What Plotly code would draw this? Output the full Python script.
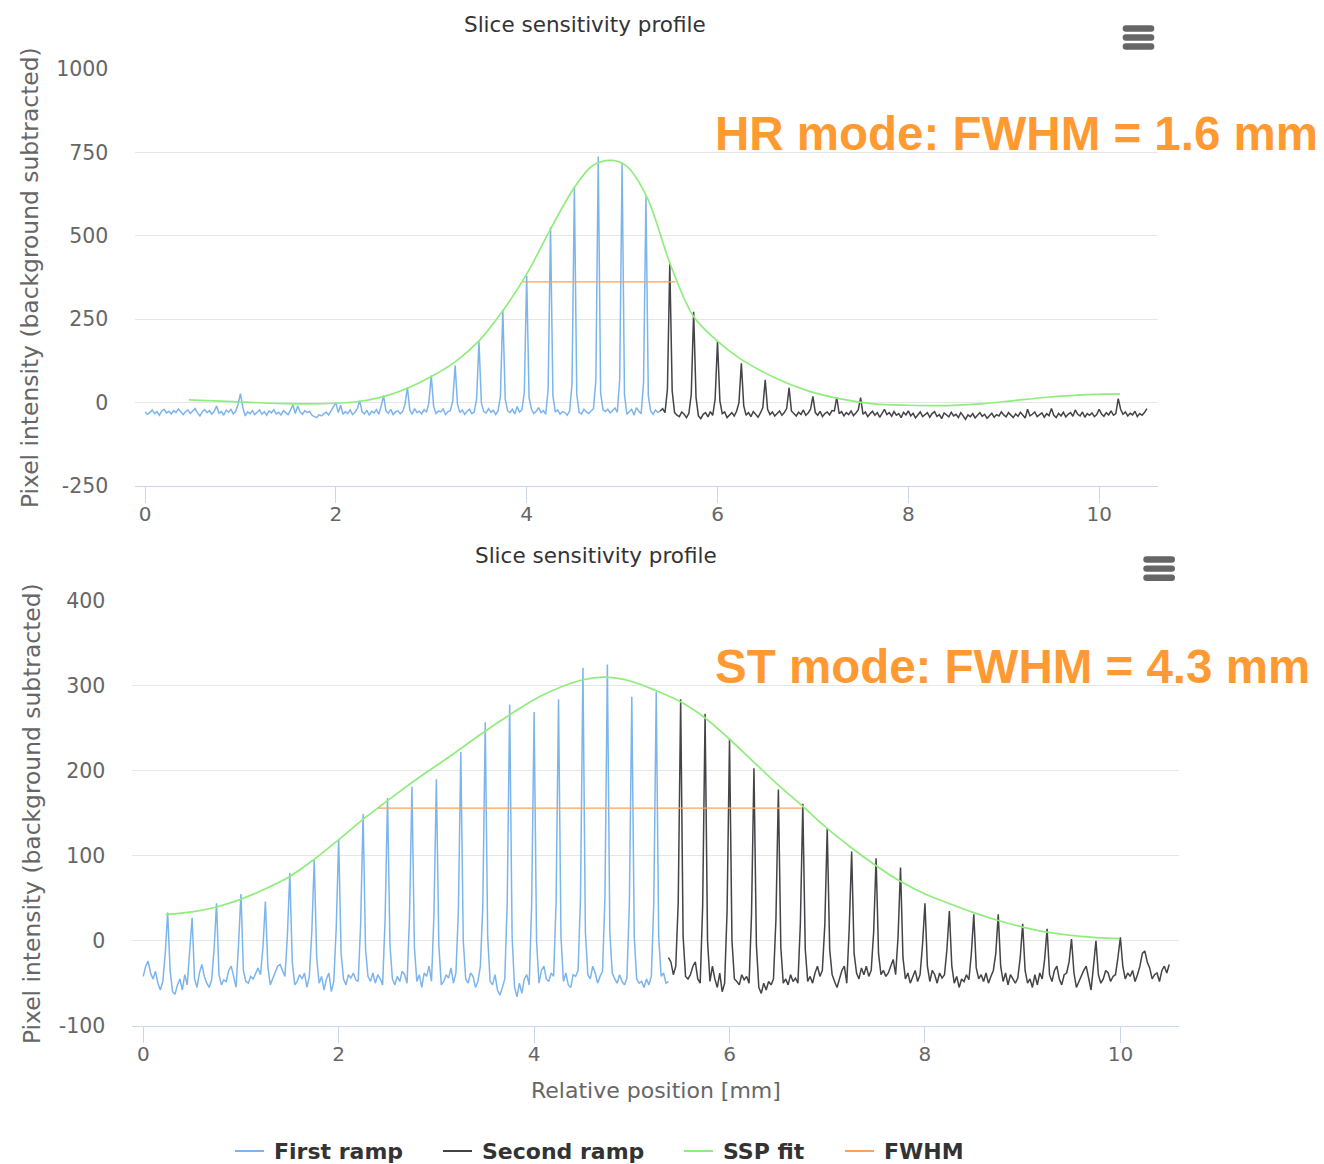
import plotly.graph_objects as go

# ---------------- data ----------------
STEP = 0.025  # sampling interval [mm]

# Top chart (HR mode) - first ramp, samples from 0.000 mm
TOP_FIRST_START = 0.0
TOP_FIRST_Y = [
    -28, -35, -30, -22, -33, -27, -38, -25, -20, -31,
    -26, -34, -24, -30, -19, -29, -36, -27, -22, -33,
    -25, -18, -31, -40, -27, -21, -30, -24, -35, -26,
    -10, -32, -27, -38, -23, -29, -20, -34, -26, -5,
    27, -15, -40, -28, -33, -24, -36, -29, -22, -35,
    -27, -38, -25, -31, -21, -34, -29, -37, -24, -30,
    -36, -22, -7, -33, -10, -28, -35, -24, -30, -26,
    -38, -42, -45, -36, -40, -33, -29, -37, -26, -15,
    0, -30, -8, -35, -27, -33, -22, -36, -29, -18,
    6, -28, -34, -23, -38, -26, -31, -21, -35, -10,
    21, -25, -32, -20, -36, -28, -24, -33, -27, -5,
    46, -22, -35, -18, -30, -26, -34, -21, -29, 0,
    81, -12, -33, -25, -28, -19, -36, -27, -24, 5,
    111, -5, -30, -22, -35, -26, -20, -33, -28, 10,
    182, 0, -27, -31, -18, -29, -23, -36, -25, 20,
    278, 10, -24, -30, -20, -34, -12, -28, -22, 30,
    380, 15, -20, -33, -26, -15, -30, -24, -35, 40,
    526, 20, -28, -22, -35, -27, -30, -38, -25, 55,
    646, 25, -30, -34, -20, -28, -33, -25, -18, 65,
    738, 30, -22, -27, -20, -31, -24, -16, -29, 70,
    719, 25, -35, -28, -20, -38, -15, -26, -33, 60,
    618, 20, -26, -35, -22, -30, -25,
]

# Top chart - second ramp, samples from 5.400 mm
TOP_SECOND_START = 5.4
TOP_SECOND_Y = [
    -25, -18, -30, 40,
    418, 35, -30, -38, -42, -28, -35, -45, -32, 25,
    272, 15, -40, -48, -35, -30, -43, -27, -38, 10,
    183, 5, -33, -28, -45, -36, -30, -40, -26, 0,
    118, -10, -38, -30, -42, -27, -35, -44, -31, -15,
    68, -20, -36, -28, -40, -33, -25, -38, -30, -18,
    44, -25, -32, -40, -29, -36, -22, -38, -31, -20,
    19, -30, -38, -26, -42, -33, -28, -37, -24, -25,
    16, -33, -27, -40, -30, -36, -25, -39, -31, -22,
    15, -35, -28, -42, -33, -26, -38, -30, -44, -32,
    -20, -36, -30, -41, -27, -38, -33, -45, -29, -37,
    -25, -40, -32, -46, -35, -28, -42, -36, -30, -44,
    -33, -27, -41, -36, -48, -31, -38, -43, -29, -40,
    -35, -45, -30, -39, -50, -37, -42, -33, -46, -38,
    -30, -41, -35, -47, -38, -32, -44, -36, -40, -28,
    -37, -43, -30, -39, -45, -34, -41, -29, -38, -46,
    -20, -40, -35, -28, -42, -36, -31, -44, -33, -39,
    -18, -38, -45, -32, -40, -29, -43, -35, -30, -41,
    -22, -35, -40, -28, -44, -33, -38, -31, -42, -36,
    -20, -34, -41, -30, -37, -25, -38, -33, 12, -20,
    -35, -28, -40, -32, -37, -26, -42, -33, -38, -30,
    -18,
]

# Top chart - SSP fit
TOP_FIT_X = [0.46, 0.93, 1.45, 2.00, 2.25, 2.50, 2.75, 3.00, 3.25, 3.50, 3.75, 4.00,
             4.25, 4.50, 4.70, 4.90, 5.05, 5.26, 5.51, 5.75, 6.00, 6.24, 6.59,
             6.94, 7.29, 7.64, 8.00, 8.41, 8.76, 9.11, 9.46, 9.81, 10.22]
TOP_FIT_Y = [8, 3, -3, -2, 4, 18, 43, 78, 122, 185, 275, 385,
             520, 645, 712, 726, 708, 616, 411, 258, 184, 131, 76,
             36, 11, -4, -8, -9, -4, 6, 16, 23, 26]

# Top chart - FWHM
TOP_FWHM_X = [3.96, 5.56]
TOP_FWHM_LEVEL = 362

# Bottom chart (ST mode) - first ramp, samples from 0.000 mm
BOT_FIRST_START = 0.0
BOT_FIRST_Y = [
    -42, -30, -24, -38, -45, -36, -50, -58, -48, -15,
    33, -35, -60, -63, -52, -45, -58, -40, -52, -15,
    27, -45, -55, -38, -28, -42, -50, -55, -46, -10,
    44, -40, -52, -46, -48, -35, -30, -42, -55, -5,
    55, -35, -48, -50, -42, -45, -38, -32, -40, -8,
    46, -30, -52, -45, -38, -30, -28, -35, -42, 5,
    80, -25, -52, -48, -40, -45, -38, -55, -42, 10,
    95, -20, -50, -42, -58, -45, -38, -60, -48, 15,
    119, -15, -45, -52, -40, -44, -38, -46, -48, 20,
    149, -10, -42, -48, -38, -50, -40, -45, -52, 25,
    168, -5, -45, -52, -42, -48, -36, -40, -50, 28,
    181, -8, -48, -40, -55, -38, -42, -30, -48, 30,
    190, -5, -52, -48, -40, -44, -32, -50, -38, 35,
    222, 0, -45, -50, -38, -42, -55, -48, -30, 40,
    257, 5, -48, -52, -40, -58, -64, -55, -45, 45,
    278, 5, -55, -66, -50, -62, -45, -40, -52, 42,
    269, 0, -50, -35, -30, -45, -48, -38, -42, 45,
    284, 5, -48, -38, -52, -55, -40, -42, -35, 50,
    321, 10, -40, -45, -30, -38, -50, -42, -36, 50,
    325, 10, -38, -45, -50, -40, -48, -52, -44, 45,
    287, 5, -45, -50, -48, -55, -45, -52, -42, 45,
    293, 5, -42, -38, -50, -48,
]

# Bottom chart - second ramp, samples from 5.375 mm
BOT_SECOND_START = 5.375
BOT_SECOND_Y = [
    -20, -25, -40, -30, 45,
    284, 5, -42, -45, -40, -30, -25, -45, -50, 40,
    267, 0, -48, -30, -45, -55, -38, -60, -50, 35,
    238, 0, -45, -48, -52, -40, -46, -42, -50, 30,
    203, -5, -55, -62, -50, -58, -48, -52, -45, 25,
    178, -8, -50, -45, -52, -40, -48, -44, -50, 20,
    161, -10, -48, -42, -50, -38, -30, -42, -35, 18,
    132, -10, -40, -48, -55, -45, -35, -30, -50, 15,
    105, -15, -38, -45, -32, -40, -30, -42, -35, 10,
    97, -15, -40, -35, -42, -38, -30, -22, -40, 5,
    86, -20, -45, -38, -50, -42, -35, -48, -40, -5,
    44, -30, -48, -35, -40, -50, -38, -44, -40, -10,
    35, -30, -50, -42, -55, -45, -48, -40, -46, -15,
    31, -32, -45, -40, -48, -38, -50, -42, -35, -15,
    31, -30, -48, -38, -52, -40, -46, -50, -44, -20,
    20, -35, -50, -45, -55, -40, -52, -38, -45, -22,
    14, -40, -48, -35, -30, -45, -52, -40, -38, -25,
    2, -38, -55, -48, -40, -35, -30, -45, -58, -30,
    0, -40, -50, -45, -35, -38, -48, -42, -40, -20,
    4, -30, -45, -38, -42, -35, -48, -40, -30, -15,
    -12, -25, -32, -45, -40, -38, -48, -35, -30, -38,
    -28,
]

# Bottom chart - SSP fit
BOT_FIT_X = [0.23, 0.50, 0.73, 0.98, 1.23, 1.49, 1.73, 1.97, 2.23, 2.40, 2.63, 2.91,
             3.14, 3.48, 3.74, 4.07, 4.50, 4.74, 5.00, 5.25, 5.50, 5.75, 6.00,
             6.24, 6.50, 6.75, 6.99, 7.24, 7.49, 7.73, 8.00, 8.22, 8.50, 8.74,
             9.00, 9.25, 9.59, 9.99]
BOT_FIT_Y = [31, 34, 39, 48, 60, 75, 94, 116, 141, 156, 176, 199,
             217, 245, 265, 288, 307, 310, 305, 294, 281, 262, 237,
             211, 183, 158, 133, 110, 89, 71, 55, 45, 33, 24,
             16, 10, 5, 2.4]

# Bottom chart - FWHM
BOT_FWHM_X = [2.40, 6.745]
BOT_FWHM_LEVEL = 156

SERIES_NAMES = ["First ramp", "Second ramp", "SSP fit", "FWHM"]
SERIES_COLORS = ["#7cb5ec", "#434348", "#90ed7d", "#f7a35c"]

TOP_YTICKS = [-250, 0, 250, 500, 750, 1000]
BOT_YTICKS = [-100, 0, 100, 200, 300, 400]
XTICKS = [0, 2, 4, 6, 8, 10]

TITLE = "Slice sensitivity profile"
YTITLE = "Pixel intensity (background subtracted)"
XTITLE = "Relative position [mm]"
TOP_NOTE = "HR mode: FWHM = 1.6 mm"
BOT_NOTE = "ST mode: FWHM = 4.3 mm"

# ---------------- figure ----------------
OFF = 8                      # page body margin
W, H = 1324 - OFF, 1164 - OFF
FONT = "DejaVu Sans"


def px(x):
    return (x - OFF) / W


def py(y):
    return 1 - (y - OFF) / H


def xs(start, n):
    return [round(start + STEP * i, 4) for i in range(n)]


fig = go.Figure()

panels = [
    ("x", "y", TOP_FIRST_START, TOP_FIRST_Y, TOP_SECOND_START, TOP_SECOND_Y,
     TOP_FIT_X, TOP_FIT_Y, TOP_FWHM_X, TOP_FWHM_LEVEL),
    ("x2", "y2", BOT_FIRST_START, BOT_FIRST_Y, BOT_SECOND_START, BOT_SECOND_Y,
     BOT_FIT_X, BOT_FIT_Y, BOT_FWHM_X, BOT_FWHM_LEVEL),
]

for (xa, ya, s1, y1, s2, y2, fx, fy, wx, wl) in panels:
    fig.add_trace(go.Scatter(x=xs(s1, len(y1)), y=y1, mode="lines", name=SERIES_NAMES[0],
                             line=dict(color=SERIES_COLORS[0], width=1.5),
                             xaxis=xa, yaxis=ya, showlegend=False))
    fig.add_trace(go.Scatter(x=xs(s2, len(y2)), y=y2, mode="lines", name=SERIES_NAMES[1],
                             line=dict(color=SERIES_COLORS[1], width=1.5),
                             xaxis=xa, yaxis=ya, showlegend=False))
    fig.add_trace(go.Scatter(x=fx, y=fy, mode="lines", name=SERIES_NAMES[2],
                             line=dict(color=SERIES_COLORS[2], width=1.7, shape="spline", smoothing=1.0),
                             xaxis=xa, yaxis=ya, showlegend=False))
    fig.add_trace(go.Scatter(x=wx, y=[wl, wl], mode="lines", name=SERIES_NAMES[3],
                             line=dict(color=SERIES_COLORS[3], width=1.2),
                             xaxis=xa, yaxis=ya, showlegend=False))

xcommon = dict(showgrid=False, zeroline=False, showline=True, linecolor="#ccd6eb", linewidth=1,
               ticks="outside", ticklen=16, tickcolor="#ccd6eb", tickwidth=1,
               ticklabelstandoff=-6,
               tickvals=XTICKS, tickfont=dict(family=FONT, size=20, color="#666666"))
ycommon = dict(showgrid=True, gridcolor="#e6e6e6", gridwidth=1.2, zeroline=False, showline=False,
               ticks="", tickfont=dict(family=FONT, size=20.5, color="#666666"),
               ticklabelstandoff=26)

fig.update_layout(
    width=W, height=H,
    margin=dict(l=0, r=0, t=0, b=0, autoexpand=False),
    paper_bgcolor="white", plot_bgcolor="white",
    font=dict(family=FONT, color="#333333"),
    showlegend=False,
    xaxis=dict(domain=[px(135.3), px(1158.3)], range=[-0.102, 10.62], anchor="y", **xcommon),
    yaxis=dict(domain=[py(486), py(69)], range=[-250, 1000], tickvals=TOP_YTICKS,
               ticktext=[str(v) for v in TOP_YTICKS], anchor="x", **ycommon),
    xaxis2=dict(domain=[px(132.3), px(1179)], range=[-0.112, 10.60], anchor="y2", **xcommon),
    yaxis2=dict(domain=[py(1025.7), py(600.7)], range=[-100, 400], tickvals=BOT_YTICKS,
                ticktext=[str(v) for v in BOT_YTICKS], anchor="x2", **ycommon),
)

ann = []
# chart titles
ann.append(dict(text=TITLE, x=px(584.5), y=py(25), xref="paper", yref="paper", showarrow=False,
                xanchor="center", yanchor="middle", font=dict(family=FONT, size=21.5, color="#333333")))
ann.append(dict(text=TITLE, x=px(595.8), y=py(556), xref="paper", yref="paper", showarrow=False,
                xanchor="center", yanchor="middle", font=dict(family=FONT, size=21.5, color="#333333")))
# y-axis titles
ann.append(dict(text=YTITLE, x=px(30), y=py(278), xref="paper", yref="paper", showarrow=False,
                textangle=-90, xanchor="center", yanchor="middle",
                font=dict(family=FONT, size=23.4, color="#666666")))
ann.append(dict(text=YTITLE, x=px(32), y=py(814), xref="paper", yref="paper", showarrow=False,
                textangle=-90, xanchor="center", yanchor="middle",
                font=dict(family=FONT, size=23.4, color="#666666")))
# x-axis title
ann.append(dict(text=XTITLE, x=px(655.5), y=py(1090), xref="paper", yref="paper", showarrow=False,
                xanchor="center", yanchor="middle", font=dict(family=FONT, size=22, color="#666666")))
# big orange notes
ann.append(dict(text=TOP_NOTE, x=px(713), y=py(133.5), xref="paper", yref="paper", showarrow=False,
                xanchor="left", yanchor="middle",
                font=dict(family="Liberation Sans", size=47.5, color="#ff9a33", weight="bold")))
ann.append(dict(text=BOT_NOTE, x=px(713), y=py(666.5), xref="paper", yref="paper", showarrow=False,
                xanchor="left", yanchor="middle",
                font=dict(family="Liberation Sans", size=47.5, color="#ff9a33", weight="bold")))

shapes = []

# legend (symbol line + bold label), drawn at the reference positions
LEGEND_SYMBOL_X = [235, 443, 684, 845]
LEGEND_Y = 1151
for name, color, sx in zip(SERIES_NAMES, SERIES_COLORS, LEGEND_SYMBOL_X):
    shapes.append(dict(type="line", xref="paper", yref="paper",
                       x0=px(sx), x1=px(sx + 29), y0=py(LEGEND_Y), y1=py(LEGEND_Y),
                       line=dict(color=color, width=2)))
    ann.append(dict(text=name, x=px(sx + 37), y=py(LEGEND_Y), xref="paper", yref="paper",
                    showarrow=False, xanchor="left", yanchor="middle",
                    font=dict(family=FONT, size=22, color="#333333", weight="bold")))

fig.update_layout(annotations=ann)


def bar_path(x0, x1, yc, h):
    r = h / 2
    return (f"M {px(x0 + r)} {py(yc - r)} L {px(x1 - r)} {py(yc - r)} "
            f"Q {px(x1)} {py(yc - r)} {px(x1)} {py(yc)} "
            f"Q {px(x1)} {py(yc + r)} {px(x1 - r)} {py(yc + r)} "
            f"L {px(x0 + r)} {py(yc + r)} "
            f"Q {px(x0)} {py(yc + r)} {px(x0)} {py(yc)} "
            f"Q {px(x0)} {py(yc - r)} {px(x0 + r)} {py(yc - r)} Z")


# hamburger menu icons
for (x0, x1, ycs) in [(1122.7, 1154.3, [28.5, 37.5, 46.5]), (1143.3, 1175, [559.5, 568.6, 577.8])]:
    for yc in ycs:
        shapes.append(dict(type="path", path=bar_path(x0, x1, yc, 6.4), xref="paper", yref="paper",
                           fillcolor="#666666", line=dict(width=0)))

# green frame edge on the left
shapes.append(dict(type="path", xref="paper", yref="paper",
                   path=(f"M {px(-30)} {py(126)} Q {px(2.2)} {py(126)} {px(2.2)} {py(158)} "
                         f"L {px(2.2)} {py(1020)} Q {px(2.2)} {py(1052)} {px(-30)} {py(1052)}"),
                   line=dict(color="#379e66", width=4.5)))
fig.update_layout(shapes=shapes)

fig.write_html("out.html")
